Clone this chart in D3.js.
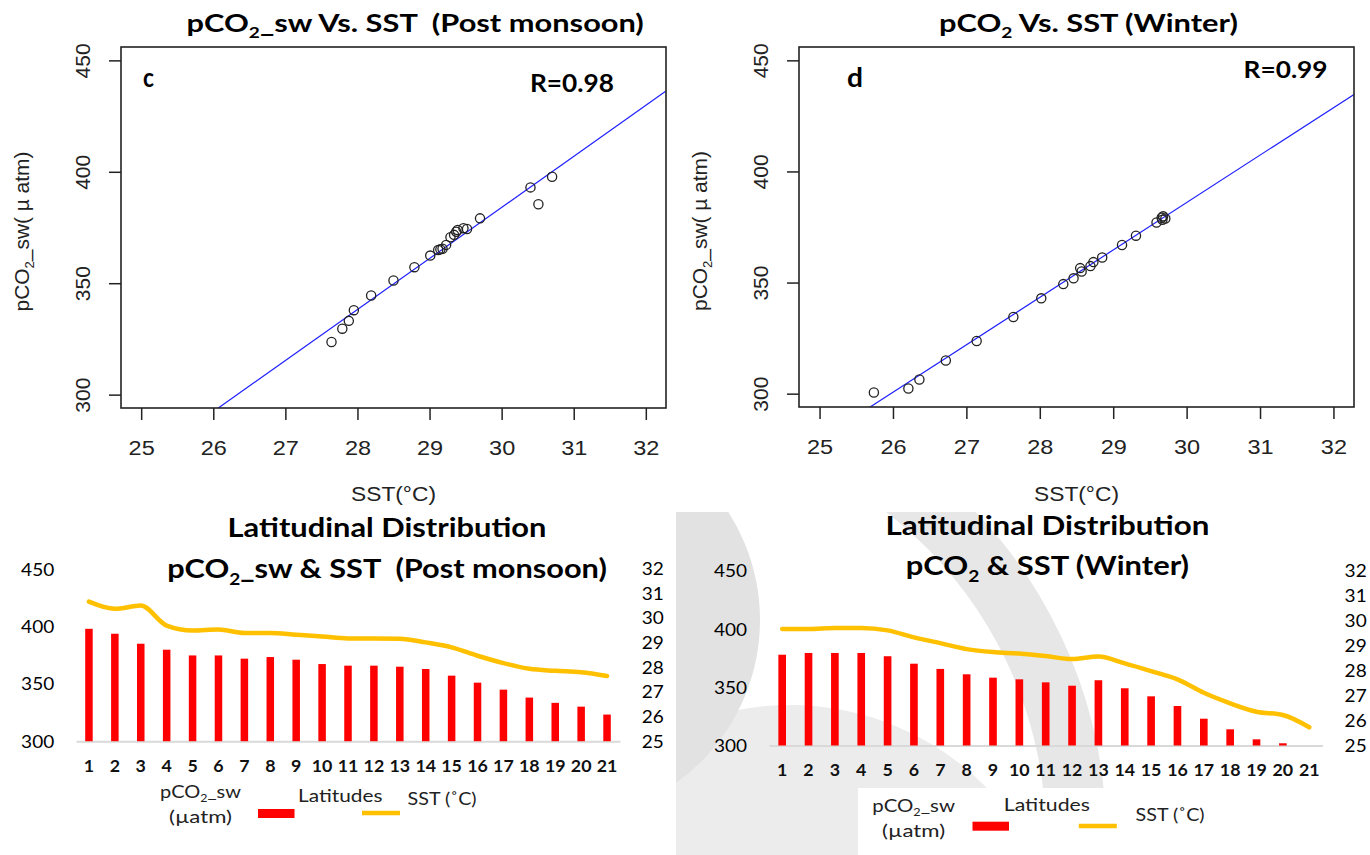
<!DOCTYPE html>
<html>
<head>
<meta charset="utf-8">
<script src="https://cdn.jsdelivr.net/npm/d3@7"></script>
<style>
  body { margin: 0; background: #fff; }
  svg { display: block; }
  text { white-space: pre; }
</style>
</head>
<body>
<div id="chart"></div>
<script>
// ---- data ----
// scatter c: post monsoon
var sstPost  = [27.64, 27.79, 27.88, 27.95, 28.19, 28.50, 28.79, 29.01, 29.12, 29.15, 29.18,
                29.23, 29.29, 29.34, 29.37, 29.39, 29.47, 29.52, 29.70, 30.40, 30.51, 30.70];
var pco2Post = [323.6, 329.6, 333.1, 337.9, 344.5, 351.2, 357.2, 362.4, 364.9, 365.2, 365.5,
                367.2, 370.6, 371.7, 373.1, 373.9, 374.7, 374.3, 379.1, 393.0, 385.4, 397.8];
// scatter d: winter
var sstWin  = [25.74, 26.21, 26.36, 26.72, 27.14, 27.64, 28.02, 28.32, 28.46, 28.55, 28.57,
               28.69, 28.73, 28.85, 29.12, 29.31, 29.59, 29.66, 29.68, 29.71, 29.67];
var pco2Win = [300.5, 302.3, 306.4, 314.9, 323.7, 334.5, 342.9, 349.3, 351.9, 356.5, 355.0,
               357.4, 359.2, 361.3, 366.9, 371.1, 377.0, 379.2, 379.8, 378.8, 378.3];
// fitted lines [intercept, slope]
var fitPost = [-303.0, 22.9];
var fitWin  = [-254.2, 21.34];
var rValues = ["R=0.98", "R=0.99"];

var sstTicks  = [25, 26, 27, 28, 29, 30, 31, 32];
var pco2Ticks = [300, 350, 400, 450];

// latitudinal distribution
var latitudes = [1, 2, 3, 4, 5, 6, 7, 8, 9, 10, 11, 12, 13, 14, 15, 16, 17, 18, 19, 20, 21];
var barPost  = [397.9, 393.6, 384.9, 379.7, 374.7, 374.7, 371.9, 373.3, 371.0, 367.2, 365.8,
                365.8, 364.9, 362.9, 357.1, 351.0, 344.9, 338.0, 333.4, 330.1, 323.2];
var linePost = [30.65, 30.36, 30.49, 29.68, 29.48, 29.52, 29.38, 29.38, 29.31, 29.24, 29.16,
                29.16, 29.15, 29.00, 28.80, 28.46, 28.16, 27.93, 27.85, 27.79, 27.64];
var barWin   = [377.9, 379.4, 379.4, 379.4, 376.6, 370.2, 365.7, 361.1, 358.2, 356.8, 354.2,
                351.3, 356.0, 349.1, 342.2, 333.9, 323.0, 313.9, 305.3, 301.9, 300.0];
var lineWin  = [29.67, 29.67, 29.71, 29.71, 29.61, 29.33, 29.10, 28.86, 28.74, 28.68, 28.58,
                28.46, 28.56, 28.29, 27.98, 27.65, 27.11, 26.69, 26.35, 26.22, 25.73];
var leftTicks  = [300, 350, 400, 450];
var rightTicks = [25, 26, 27, 28, 29, 30, 31, 32];

var RF = "'Liberation Sans', Arial, sans-serif";
var CF = "Lato, 'Open Sans', sans-serif";
var RED = "#ff0000", GOLD = "#ffc000";

var svg = d3.select("#chart").append("svg")
    .attr("width", 1370)
    .attr("height", 855);

// text helper: parts can hold {sub:"2"}; width stretches the text horizontally
function label(parent, x, y, parts, o) {
    var base = "translate(" + x + "," + y + ")" + (o.rotate ? " rotate(" + o.rotate + ")" : "");
    var g = parent.append("g").attr("transform", base);
    var t = g.append("text")
        .attr("font-family", o.family || CF)
        .attr("font-size", o.size)
        .attr("font-weight", o.weight || "normal")
        .attr("fill", o.fill || "#000")
        .attr("text-anchor", o.anchor || "middle");
    var shift = 0;
    [].concat(parts).forEach(function (p) {
        var s = t.append("tspan");
        if (typeof p === "string") {
            s.text(p);
            if (shift) { s.attr("dy", -shift); shift = 0; }
        } else {
            shift = o.size * 0.25;
            s.text(p.sub).attr("font-size", o.size * 0.62).attr("dy", shift);
        }
    });
    var sx = o.sx || 1;
    if (o.width) sx = o.width / t.node().getComputedTextLength();
    if (sx !== 1) g.attr("transform", base + " scale(" + sx + ",1)");
    return g;
}

// ---- faint watermark behind the winter bar chart ----
var defs = svg.append("defs");
defs.append("clipPath").attr("id", "wm").append("rect")
    .attr("x", 676).attr("y", 512).attr("width", 694).attr("height", 343);
var wm = svg.append("g").attr("clip-path", "url(#wm)");
var ring = d3.arc().startAngle(0).endAngle(2 * Math.PI);
wm.append("path").attr("transform", "translate(790,980)")
    .attr("d", ring({ innerRadius: 0, outerRadius: 275 })).attr("fill", "#ececec");
wm.append("path").attr("transform", "translate(560,620)")
    .attr("d", ring({ innerRadius: 116, outerRadius: 200 })).attr("fill", "#e2e2e2");
wm.append("path").attr("transform", "translate(636,837)")
    .attr("d", ring({ innerRadius: 410, outerRadius: 470 })).attr("fill", "#e7e7e7");

// ---- scatter panels ----
function scatter(p) {
    var g = svg.append("g");
    var xl = d3.extent(sstTicks), yl = d3.extent(pco2Ticks);
    var xp = (xl[1] - xl[0]) * 0.04, yp = (yl[1] - yl[0]) * 0.04;
    var x = d3.scaleLinear().domain([xl[0] - xp, xl[1] + xp]).range([p.x0, p.x1]);
    var y = d3.scaleLinear().domain([yl[0] - yp, yl[1] + yp]).range([p.y1, p.y0]);

    defs.append("clipPath").attr("id", p.id).append("rect")
        .attr("x", p.x0).attr("y", p.y0).attr("width", p.x1 - p.x0).attr("height", p.y1 - p.y0);

    var fit = d3.line().x(function (d) { return x(d); })
        .y(function (d) { return y(p.fit[0] + p.fit[1] * d); });
    g.append("path").datum(x.domain())
        .attr("clip-path", "url(#" + p.id + ")")
        .attr("d", fit)
        .attr("fill", "none").attr("stroke", "#2020ff").attr("stroke-width", 1.2);

    g.selectAll("circle").data(p.xs).join("circle")
        .attr("cx", function (d) { return x(d); })
        .attr("cy", function (d, i) { return y(p.ys[i]); })
        .attr("r", 4.6)
        .attr("fill", "none").attr("stroke", "#222").attr("stroke-width", 1.3);

    g.append("rect")
        .attr("x", p.x0).attr("y", p.y0).attr("width", p.x1 - p.x0).attr("height", p.y1 - p.y0)
        .attr("fill", "none").attr("stroke", "#222").attr("stroke-width", 1.6);

    var xa = g.append("g").attr("transform", "translate(0," + p.y1 + ")")
        .call(d3.axisBottom(x).tickValues(sstTicks).tickSize(12));
    xa.select(".domain").remove();
    xa.selectAll("line").attr("stroke", "#222").attr("stroke-width", 1.5);
    xa.selectAll("text").attr("y", 47).attr("dy", null)
        .attr("font-family", RF).attr("font-size", 21).attr("fill", "#222")
        .attr("transform", "scale(1.12,1)");

    var ya = g.append("g").attr("transform", "translate(" + p.x0 + ",0)")
        .call(d3.axisLeft(y).tickValues(pco2Ticks).tickSize(12));
    ya.select(".domain").remove();
    ya.selectAll("line").attr("stroke", "#222").attr("stroke-width", 1.5);
    ya.selectAll("text").attr("transform", "rotate(-90)")
        .attr("x", 0).attr("y", -31).attr("dy", null).attr("text-anchor", "middle")
        .attr("font-family", RF).attr("font-size", 21).attr("fill", "#222");

    label(g, p.x0 - 92, (p.y0 + p.y1) / 2 + 4, ["pCO", { sub: "2" }, "_sw( \u00b5 atm)"],
        { family: RF, size: 21, fill: "#222", rotate: -90, width: 160 });
    label(g, (p.x0 + p.x1) / 2, 500.7, "SST(\u00b0C)", { family: RF, size: 21, fill: "#222", width: 85 });

    label(g, p.tx, 31.7, p.title, { size: 24.5, weight: "bold", width: p.tw });
    label(g, p.lx, 87, p.letter, { size: 26, weight: "bold", anchor: "start", width: p.lw });
    label(g, p.rx, p.ry, p.r, { size: p.rs, weight: "bold", anchor: "start", width: 84 });
}

scatter({
    id: "clipC", x0: 121, x1: 666, y0: 47, y1: 408,
    xs: sstPost, ys: pco2Post, fit: fitPost,
    title: ["pCO", { sub: "2" }, "_sw Vs. SST  (Post monsoon)"], tx: 415.2, tw: 457.5,
    letter: "c", lx: 143, lw: 11, r: rValues[0], rx: 530, ry: 91.7, rs: 25
});
scatter({
    id: "clipD", x0: 799, x1: 1354, y0: 47, y1: 407,
    xs: sstWin, ys: pco2Win, fit: fitWin,
    title: ["pCO", { sub: "2" }, " Vs. SST (Winter)"], tx: 1088.5, tw: 299,
    letter: "d", lx: 847, lw: 16, r: rValues[1], rx: 1243.6, ry: 78.3, rs: 22
});

// ---- latitudinal bar + line panels ----
function barPanel(p) {
    var g = svg.append("g");
    var x = d3.scaleBand().domain(latitudes).range([p.x0, p.x1])
        .paddingInner(0.71).paddingOuter(0.355);
    var yL = d3.scaleLinear().domain(d3.extent(leftTicks)).range([p.base, p.top]);
    var yR = d3.scaleLinear().domain(d3.extent(rightTicks)).range([p.base, p.topR]);

    var xa = g.append("g").attr("transform", "translate(0," + p.base + ")")
        .call(d3.axisBottom(x).tickSize(0).tickSizeOuter(0).tickPadding(0));
    xa.select(".domain").attr("stroke", "#d9d9d9").attr("stroke-width", 2);
    xa.selectAll("text").attr("y", p.catY - p.base).attr("dy", null)
        .attr("font-family", CF).attr("font-size", 16.5).attr("font-weight", "bold").attr("fill", "#111")
        .attr("transform", "scale(1.08,1)");

    g.selectAll("rect.bar").data(p.bars).join("rect").attr("class", "bar")
        .attr("x", function (d, i) { return x(latitudes[i]); })
        .attr("width", x.bandwidth())
        .attr("y", function (d) { return yL(d); })
        .attr("height", function (d) { return p.base - yL(d); })
        .attr("fill", RED);

    var sst = d3.line()
        .x(function (d, i) { return x(latitudes[i]) + x.bandwidth() / 2; })
        .y(function (d) { return yR(d); })
        .curve(d3.curveMonotoneX);
    g.append("path").datum(p.line).attr("d", sst)
        .attr("fill", "none").attr("stroke", GOLD).attr("stroke-width", 4.5)
        .attr("stroke-linecap", "round").attr("stroke-linejoin", "round");

    var la = g.append("g").attr("transform", "translate(" + p.lx + ",0)")
        .call(d3.axisLeft(yL).tickValues(leftTicks).tickFormat(d3.format("d")).tickSize(0).tickPadding(0));
    la.select(".domain").remove();
    la.selectAll("text").attr("x", 0).attr("dy", "0.36em")
        .attr("font-family", CF).attr("font-size", 17).attr("fill", "#000")
        .attr("transform", "scale(1.12,1)");

    var ra = g.append("g").attr("transform", "translate(" + p.rx + ",0)")
        .call(d3.axisRight(yR).tickValues(rightTicks).tickFormat(d3.format("d")).tickSize(0).tickPadding(0));
    ra.select(".domain").remove();
    ra.selectAll("text").attr("x", 0).attr("dy", "0.36em")
        .attr("font-family", CF).attr("font-size", 17).attr("fill", "#000")
        .attr("transform", "scale(1.12,1)");

    label(g, p.tcx, p.t1y, "Latitudinal Distribution", { size: 27, weight: "bold", width: p.t1w });
    label(g, p.tcx, p.t2y, p.title2, { size: 27, weight: "bold", width: p.t2w });

    // legend
    var L = p.leg;
    if (L.bg) g.append("rect").attr("x", L.bg[0]).attr("y", L.bg[1]).attr("width", L.bg[2]).attr("height", L.bg[3]).attr("fill", "#fff");
    label(g, L.px, L.py, ["pCO", { sub: "2" }, "_sw"], { size: 17.5, fill: "#222", width: L.pw });
    label(g, L.px, L.py + 25, "(\u00b5atm)", { size: 17.5, fill: "#222", width: 63 });
    g.append("rect").attr("x", L.rx).attr("y", L.ry).attr("width", 36.5).attr("height", 9).attr("fill", RED);
    label(g, L.lx, L.ly, "Latitudes", { size: 17.5, fill: "#222", anchor: "start", width: L.lw });
    g.append("line").attr("x1", L.ox).attr("x2", L.ox + 38).attr("y1", L.oy).attr("y2", L.oy)
        .attr("stroke", GOLD).attr("stroke-width", 4.5);
    label(g, L.sx, L.sy, "SST (\u02daC)", { size: 17.5, fill: "#222", anchor: "start", width: 69 });
}

barPanel({
    x0: 76, x1: 620, base: 741.2, top: 569, topR: 568.3, catY: 771.7, lx: 54.2, rx: 641.8,
    bars: barPost, line: linePost,
    tcx: 387, t1y: 536.7, t1w: 319, t2y: 578.3, t2w: 440,
    title2: ["pCO", { sub: "2" }, "_sw & SST  (Post monsoon)"],
    leg: { px: 200.5, py: 798, pw: 81, rx: 258, ry: 809, lx: 298, ly: 801.7, lw: 84.5,
           ox: 362, oy: 813, sx: 407.6, sy: 805 }
});
barPanel({
    x0: 769, x1: 1322.4, base: 745.5, top: 570.7, topR: 570.7, catY: 776, lx: 747, rx: 1344.6,
    bars: barWin, line: lineWin,
    tcx: 1047.4, t1y: 535, t1w: 324, t2y: 575, t2w: 283.5,
    title2: ["pCO", { sub: "2" }, " & SST (Winter)"],
    leg: { bg: [858, 788, 362, 67], px: 913.6, py: 811.7, pw: 82.7, rx: 972.5, ry: 821.7,
           lx: 1003.8, ly: 810.7, lw: 86.2, ox: 1078.8, oy: 826, sx: 1135.6, sy: 820.7 }
});
</script>
</body>
</html>
